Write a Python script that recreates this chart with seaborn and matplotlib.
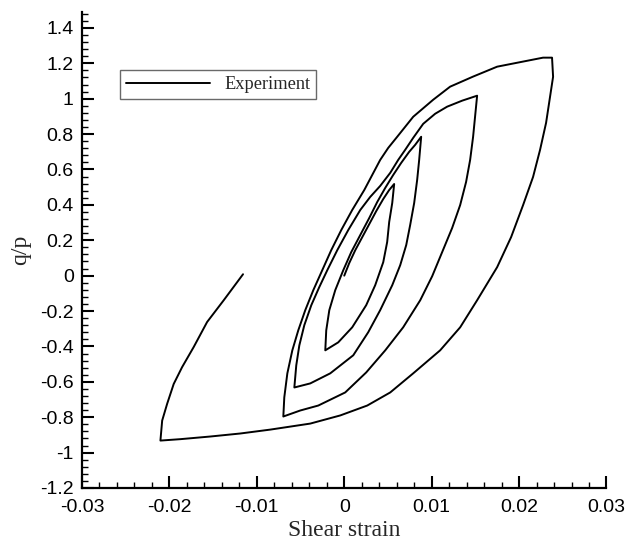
import matplotlib
matplotlib.use("Agg")
from matplotlib import pyplot as plt
from matplotlib.ticker import MultipleLocator
import seaborn as sns
import pandas as pd

# half cycles of the experiment, strain and q/p
up_0_x = [0.0, 0.00057, 0.00126, 0.00206, 0.00286, 0.00366, 0.00446, 0.00514, 0.00571]
up_0_y = [0.0, 0.071, 0.144, 0.218, 0.292, 0.365, 0.433, 0.484, 0.518]

down_1_x = [0.00571, 0.00549, 0.00514, 0.00491, 0.00446, 0.00354, 0.00251, 0.00091, -0.00069, -0.00217]
down_1_y = [0.518, 0.411, 0.303, 0.190, 0.076, -0.054, -0.167, -0.292, -0.377, -0.422]

up_1_x = [-0.00217, -0.00206, -0.00171, -0.00103, -0.00011, 0.00080, 0.00183, 0.00286, 0.00377, 0.00469, 0.00560,
          0.00651, 0.00743, 0.00811, 0.00880]
up_1_y = [-0.422, -0.309, -0.195, -0.082, 0.031, 0.133, 0.229, 0.326, 0.416, 0.496, 0.569, 0.637, 0.700, 0.739, 0.785]

down_2_x = [0.00880, 0.00857, 0.00834, 0.00800, 0.00754, 0.00709, 0.00640, 0.00549, 0.00411, 0.00274, 0.00103,
            -0.00160, -0.00389, -0.00571]
down_2_y = [0.785, 0.654, 0.541, 0.411, 0.286, 0.173, 0.059, -0.054, -0.195, -0.320, -0.450, -0.552, -0.609, -0.632]

up_2_x = [-0.00571, -0.00549, -0.00514, -0.00457, -0.00377, -0.00286, -0.00194, -0.00080, 0.00046, 0.00183, 0.00297,
          0.00411, 0.00526, 0.00617, 0.00697, 0.00789, 0.00903, 0.01040, 0.01177, 0.01349, 0.01520]
up_2_y = [-0.632, -0.507, -0.394, -0.280, -0.167, -0.065, 0.031, 0.144, 0.258, 0.371, 0.445, 0.507, 0.581, 0.654,
          0.711, 0.779, 0.858, 0.915, 0.955, 0.989, 1.017]

down_3_x = [0.01520, 0.01497, 0.01474, 0.01440, 0.01394, 0.01326, 0.01234, 0.01120, 0.01006, 0.00869, 0.00674,
            0.00469, 0.00251, 0.00011, -0.00297, -0.00503, -0.00697]
down_3_y = [1.017, 0.898, 0.785, 0.654, 0.530, 0.399, 0.269, 0.133, -0.003, -0.139, -0.292, -0.422, -0.547, -0.660,
            -0.734, -0.762, -0.796]

up_3_x = [-0.00697, -0.00686, -0.00651, -0.00594, -0.00526, -0.00446, -0.00354, -0.00251, -0.00149, -0.00034,
          0.00091, 0.00229, 0.00320, 0.00411, 0.00503, 0.00606, 0.00789, 0.01017, 0.01211, 0.01474, 0.01749, 0.02046,
          0.02274, 0.02377]
up_3_y = [-0.796, -0.688, -0.552, -0.422, -0.309, -0.195, -0.082, 0.031, 0.144, 0.258, 0.371, 0.484, 0.569, 0.654,
          0.722, 0.785, 0.898, 0.994, 1.068, 1.125, 1.181, 1.210, 1.232, 1.232]

down_4_x = [0.02377, 0.02389, 0.02354, 0.02309, 0.02240, 0.02160, 0.02046, 0.01909, 0.01749, 0.01520, 0.01326,
            0.01097, 0.00789, 0.00526, 0.00263, -0.00046, -0.00389, -0.00846, -0.01189, -0.01531, -0.01874, -0.02103]
down_4_y = [1.232, 1.124, 1.011, 0.864, 0.711, 0.558, 0.399, 0.218, 0.048, -0.139, -0.292, -0.422, -0.552, -0.660,
            -0.734, -0.790, -0.836, -0.870, -0.892, -0.909, -0.924, -0.932]

up_4_x = [-0.02103, -0.02083, -0.02026, -0.01951, -0.01855, -0.01722, -0.01569, -0.01379, -0.01158]
up_4_y = [-0.932, -0.819, -0.724, -0.612, -0.517, -0.403, -0.262, -0.139, 0.008]

x_ticks = [-0.03, -0.02, -0.01, 0, 0.01, 0.02, 0.03]
x_labels = ['-0.03', '-0.02', '-0.01', '0', '0.01', '0.02', '0.03']
y_ticks = [-1.2, -1, -0.8, -0.6, -0.4, -0.2, 0, 0.2, 0.4, 0.6, 0.8, 1, 1.2, 1.4]
y_labels = ['-1.2', '-1', '-0.8', '-0.6', '-0.4', '-0.2', '0', '0.2', '0.4', '0.6', '0.8', '1', '1.2', '1.4']

strain = (up_0_x + down_1_x[1:] + up_1_x[1:] + down_2_x[1:] + up_2_x[1:] + down_3_x[1:] + up_3_x[1:]
          + down_4_x[1:] + up_4_x[1:])
qp = (up_0_y + down_1_y[1:] + up_1_y[1:] + down_2_y[1:] + up_2_y[1:] + down_3_y[1:] + up_3_y[1:]
      + down_4_y[1:] + up_4_y[1:])
data = pd.DataFrame({'strain': strain, 'qp': qp, 'kind': 'Experiment'})

sns.set_style('ticks')
plt.rcParams['font.family'] = ['Liberation Sans', 'DejaVu Sans']

fig = plt.figure(figsize=(6.27, 5.43), dpi=100)
ax = fig.add_axes([0.1308, 0.1013, 0.8365, 0.8766])

sns.lineplot(data=data, x='strain', y='qp', hue='kind', palette=['black'], sort=False, estimator=None,
             linewidth=1.4, ax=ax)

ax.set_xlim(-0.03, 0.03)
ax.set_ylim(-1.2, 1.49)
ax.set_xticks(x_ticks, x_labels)
ax.set_yticks(y_ticks, y_labels)
ax.xaxis.set_minor_locator(MultipleLocator(0.002))
ax.yaxis.set_minor_locator(MultipleLocator(0.04))
ax.tick_params(which='major', direction='in', length=8.5, width=1.5, labelsize=14, colors='black')
ax.tick_params(axis='x', which='major', pad=8)
ax.tick_params(axis='y', which='major', pad=6)
ax.tick_params(which='minor', direction='in', length=4, width=1.0, colors='black')
sns.despine(ax=ax)
for side in ['left', 'bottom']:
    ax.spines[side].set_linewidth(1.6)
    ax.spines[side].set_color('black')

ax.set_xlabel('Shear strain', family='Liberation Serif', fontsize=17, labelpad=3)
ax.set_ylabel('q/p', family='Liberation Serif', fontsize=17, labelpad=6)

leg = ax.legend(loc='upper left', bbox_to_anchor=(0.0725, 0.878), frameon=True, fancybox=False,
                handlelength=4.6, handletextpad=0.75, borderpad=0.32, borderaxespad=0,
                prop={'family': 'Liberation Serif', 'size': 13.2})
leg.get_frame().set_edgecolor('#444444')
leg.get_frame().set_linewidth(1.0)
for line in leg.get_lines():
    line.set_linewidth(1.4)

fig.savefig('out.png', dpi=100)
